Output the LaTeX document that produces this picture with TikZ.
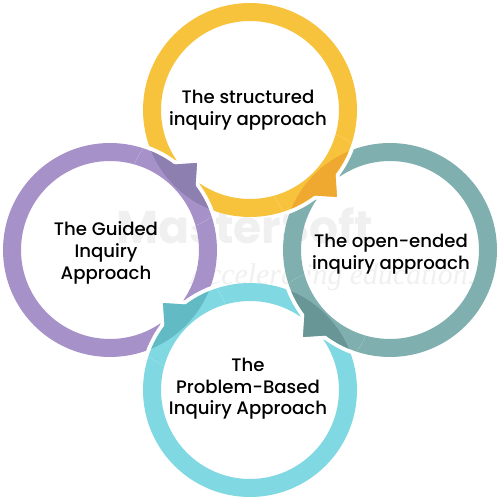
\documentclass[tikz,border=0pt]{standalone}
\usepackage{fontspec}
\setmainfont{Poppins}[UprightFont={* Medium}, BoldFont={* Bold}]
\newfontfamily\wmfont{Liberation Serif}
\usetikzlibrary{calc}
\definecolor{yelL}{HTML}{F8C33C}
\definecolor{yelD}{HTML}{F0A930}
\definecolor{purL}{HTML}{A791C9}
\definecolor{purD}{HTML}{8D7FB0}
\definecolor{teaL}{HTML}{7FAFAE}
\definecolor{teaD}{HTML}{689696}
\definecolor{cyaL}{HTML}{80D8E2}
\definecolor{cyaD}{HTML}{62BBC4}
\newcommand{\mycross}[5]{%
  \begin{scope}
    \clip ($(#1)!0.5!(#5)$) circle (48);
    \draw[white, line width=0.52cm] (#1) circle (98);
    \filldraw[white, line width=0.16cm, line join=miter, shift={(#1)}]
      (#2+10:104) -- (#2:123) -- (#2-10:104) -- cycle;
    \draw[#3, line width=0.36cm] (#1) circle (98);
    \fill[#3, shift={(#1)}] (#2+10:104) -- (#2:123) -- (#2-10:104) -- cycle;
    \begin{scope}
      \clip (#5) circle (107);
      \draw[#4, line width=0.36cm] (#1) circle (98);
      \fill[#4, shift={(#1)}] (#2+10:104) -- (#2:123) -- (#2-10:104) -- cycle;
    \end{scope}
  \end{scope}}
\begin{document}
\begin{tikzpicture}[x=0.02cm,y=0.02cm]
\tikzset{
  ring/.style={circle, draw=#1, line width=0.36cm, minimum size=3.92cm,
    inner sep=0pt},
  lbl/.style={align=center, text=black, inner sep=0pt,
    font=\fontsize{10.3}{12.3}\selectfont},
  wmark/.style={text=black!6}
}
\useasboundingbox (-250,-250) rectangle (250,250);
\fill[white] (-250,-250) rectangle (250,250);
% faint watermark
\node[wmark, font=\fontsize{26}{28}\selectfont\bfseries] (wm1) at (-5,24) {MasterSoft};
\node[wmark, font=\wmfont\itshape\fontsize{17}{19}\selectfont] (wm2) at (90,-27) {Accelerating education...};
% rings
\node[ring=yelL] (yel) at (0,140) {};
\node[ring=teaL] (tea) at (140,0) {};
\node[ring=cyaL] (cya) at (0,-140) {};
\node[ring=purL] (pur) at (-140,0) {};
% labels
\node[lbl] (yelt) at ($(yel.center)+(-2,0)$) {The structured\\inquiry approach};
\node[lbl] (teat) at ($(tea.center)+(1,-4)$) {The open-ended\\inquiry approach};
\node[lbl] (cyat) at ($(cya.center)+(-2,1)$) {The\\Problem-Based\\Inquiry Approach};
\node[lbl] (purt) at ($(pur.center)+(-4,-3)$) {The Guided\\Inquiry\\Approach};
% crossings
\mycross{pur.center}{45}{purL}{purD}{yel.center}
\mycross{yel.center}{-45}{yelL}{yelD}{tea.center}
\mycross{tea.center}{-135}{teaL}{teaD}{cya.center}
\mycross{cya.center}{135}{cyaL}{cyaD}{pur.center}
\end{tikzpicture}
\end{document}
